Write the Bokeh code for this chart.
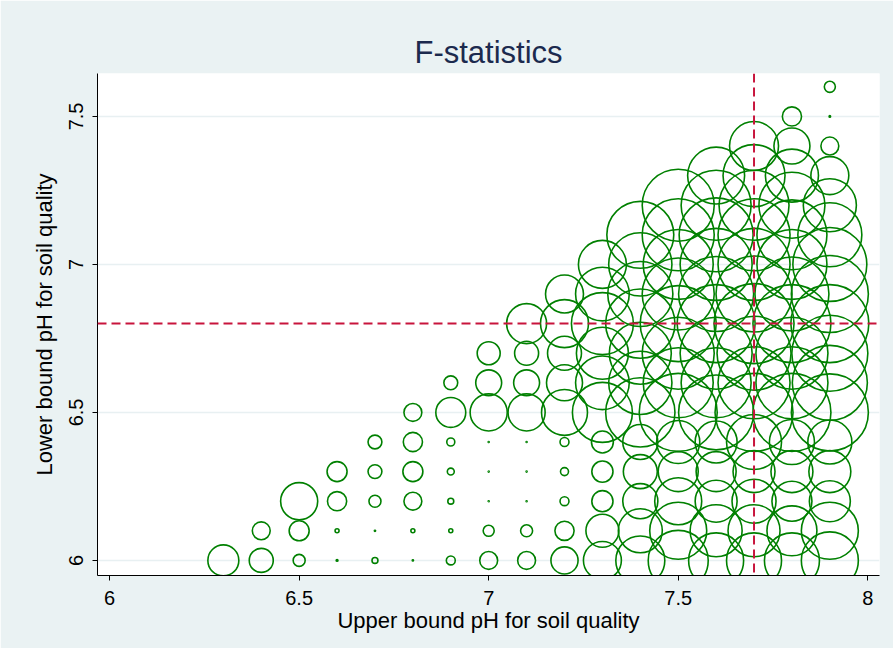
import math
import numpy as np
from bokeh.plotting import figure
from bokeh.models import Span, FixedTicker, NumeralTickFormatter, ColumnDataSource
from bokeh.embed import file_html
from bokeh.resources import INLINE

# ---- data ----
upper_bounds = [6.3, 6.4, 6.5, 6.6, 6.7, 6.8, 6.9, 7.0, 7.1, 7.2, 7.3, 7.4, 7.5, 7.6, 7.7, 7.8, 7.9]
lower_bounds = [6.0, 6.1, 6.2, 6.3, 6.4, 6.5, 6.6, 6.7, 6.8, 6.9, 7.0, 7.1, 7.2, 7.3, 7.4, 7.5, 7.6]

# F-statistic per upper bound, listed for lower bounds 6.0, 6.1, ... (up to upper - 0.3)
f_63 = [60]
f_64 = [36, 20]
f_65 = [9, 25, 86]
f_66 = [0.2, 1.0, 23, 25]
f_67 = [2.2, 0.1, 9, 12, 12]
f_68 = [0.1, 1.0, 20, 25, 23, 20]
f_69 = [5, 1.0, 2.2, 3, 4, 56, 12]
f_70 = [20, 7.6, 0.06, 0.06, 0.06, 86, 42, 33]
f_71 = [20, 9, 0.06, 0.06, 0.06, 86, 42, 36, 100]
f_72 = [46, 23, 5, 4, 5, 132, 81, 72, 144, 90]
f_73 = [90, 68, 28, 28, 30, 225, 180, 169, 240, 180, 144]
f_74 = [150, 121, 77, 72, 77, 300, 250, 240, 300, 265, 250, 280]
f_75 = [225, 203, 138, 100, 116, 380, 306, 324, 361, 324, 306, 324, 324]
f_76 = [189, 169, 110, 100, 110, 352, 306, 324, 380, 352, 324, 342, 306, 203]
f_77 = [189, 169, 121, 110, 189, 380, 324, 342, 400, 361, 324, 324, 306, 240, 150]
f_78 = [189, 156, 100, 110, 127, 380, 324, 324, 380, 342, 306, 306, 272, 176, 81, 23]
f_79 = [203, 203, 105, 110, 121, 371, 352, 361, 380, 371, 342, 256, 176, 90, 20, 0.14, 7.6]

fstats = [f_63, f_64, f_65, f_66, f_67, f_68, f_69, f_70, f_71, f_72,
          f_73, f_74, f_75, f_76, f_77, f_78, f_79]

opt_upper = 7.7
opt_lower = 6.8

x_ticks = [6, 6.5, 7, 7.5, 8]
y_ticks = [6, 6.5, 7, 7.5]

# ---- build source ----
xs, ys, fs = [], [], []
for ub, col in zip(upper_bounds, fstats):
    for lb, f in zip(lower_bounds, col):
        xs.append(ub)
        ys.append(lb)
        fs.append(f)
fs = np.array(fs, dtype=float)
sizes = 4.0 * np.sqrt(fs)  # bubble area proportional to F
src = ColumnDataSource(dict(x=xs, y=ys, f=fs.tolist(), s=sizes.tolist()))

FONT = "Liberation Sans"

p = figure(width=893, height=648, output_backend="svg", toolbar_location=None,
           x_range=(5.968, 8.031), y_range=(5.949, 7.645),
           min_border_left=97, min_border_right=14, min_border_top=73, min_border_bottom=73,
           title="F-statistics")

p.background_fill_color = "white"
p.border_fill_color = "#EAF2F3"
p.outline_line_color = None

p.title.align = "center"
p.title.text_font = FONT
p.title.text_font_size = "31px"
p.title.text_font_style = "normal"
p.title.text_color = "#1C2A4E"
p.title.standoff = 8

p.xgrid.visible = False
p.ygrid.ticker = FixedTicker(ticks=y_ticks)
p.ygrid.grid_line_color = "#E8F0F2"
p.ygrid.grid_line_width = 1.5

for ax in (p.xaxis[0], p.yaxis[0]):
    ax.axis_line_color = "black"
    ax.major_tick_line_color = "black"
    ax.minor_tick_line_color = None
    ax.major_tick_out = 5
    ax.major_tick_in = 0
    ax.major_label_text_font = FONT
    ax.major_label_text_font_size = "20px"
    ax.major_label_text_color = "black"
    ax.axis_label_text_font = FONT
    ax.axis_label_text_font_size = "22px"
    ax.axis_label_text_font_style = "normal"
    ax.axis_label_text_color = "black"
    ax.formatter = NumeralTickFormatter(format="0.[0]")

p.xaxis.ticker = FixedTicker(ticks=x_ticks)
p.yaxis.ticker = FixedTicker(ticks=y_ticks)
p.xaxis.axis_label = "Upper bound pH for soil quality"
p.yaxis.axis_label = "Lower bound pH for soil quality"
p.xaxis.major_label_standoff = 10
p.xaxis.axis_label_standoff = 0
p.yaxis.major_label_standoff = 9
p.yaxis.axis_label_standoff = 10
p.yaxis.major_label_orientation = "vertical"

p.scatter("x", "y", source=src, size="s", marker="circle",
          fill_color=None, line_color="#008000", line_width=1.6)

red = "#C8143C"
p.add_layout(Span(location=opt_lower, dimension="width", line_color=red,
                  line_width=2, line_dash="9 5"))
p.add_layout(Span(location=opt_upper, dimension="height", line_color=red,
                  line_width=2, line_dash="9 5"))

open("out.html", "w").write(file_html(p, INLINE))
